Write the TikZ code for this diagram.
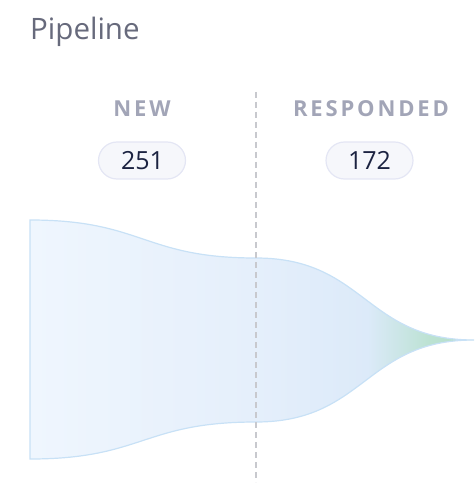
\documentclass[tikz,border=0pt]{standalone}
\usepackage{fontspec}
\setmainfont{Open Sans}
\newfontfamily\labfont[LetterSpace=13]{Open Sans}
\definecolor{titlec}{HTML}{676A7C}
\definecolor{labc}{HTML}{A2A5B7}
\definecolor{numc}{HTML}{1C2341}
\definecolor{pillfill}{HTML}{F6F7FB}
\definecolor{pilldraw}{HTML}{E4E6F4}
\definecolor{flowdraw}{HTML}{C8E1F6}
\definecolor{dashc}{HTML}{C8C9CE}
\definecolor{fa}{HTML}{EFF6FE}
\definecolor{fb}{HTML}{E5EFFB}
\definecolor{fc}{HTML}{DCEAF9}
\definecolor{fd}{HTML}{C9E5E4}
\definecolor{fe}{HTML}{BCE2D2}
\definecolor{ff}{HTML}{B2DDC9}
\pgfdeclarehorizontalshading{flowshade}{100bp}{color(0bp)=(fa); color(25bp)=(fa); color(50bp)=(fb); color(63bp)=(fc); color(67bp)=(fd); color(70bp)=(fe); color(75bp)=(ff); color(100bp)=(ff)}
\tikzset{
  titletext/.style={font=\fontsize{29.5}{31}\selectfont, text=titlec, inner sep=0pt},
  stagelabel/.style={font=\labfont\bfseries\fontsize{22}{24}\selectfont, text=labc, inner sep=0pt},
  pill/.style={draw=pilldraw, fill=pillfill, line width=1.2pt, rounded corners=18.5pt, minimum width=87pt, minimum height=37pt, inner sep=0pt},
  pilltext/.style={font=\fontsize{25}{27}\selectfont, text=numc, inner sep=0pt},
  divider/.style={draw=dashc, line width=1.6pt, dash pattern=on 6pt off 4pt},
  flow/.style={draw=flowdraw, line width=1.2pt, shading=flowshade}
}
\begin{document}
\begin{tikzpicture}[x=1pt,y=-1pt]
\useasboundingbox (0,0) rectangle (474,486);
% flow shape
\path[flow] (30,220) .. controls (143,220) and (143,258) .. (256,258)
  .. controls (365,258) and (365,340) .. (474,340)
  .. controls (365,340) and (365,422) .. (256,422)
  .. controls (143,422) and (143,459) .. (30,459) -- cycle;
% divider
\coordinate (dtop) at (256,92);
\coordinate (dbot) at (256,482);
\draw[divider] (dtop) -- (dbot);
% title
\node[titletext, anchor=base west] (title) at (30,39.5) {Pipeline};
% stage labels
\node[stagelabel, anchor=base] (lnew) at (142,116.7) {NEW};
\node[stagelabel, anchor=base] (lresp) at (371,116.7) {RESPONDED};
% pills
\node[pill] (pnew) at (142,160.5) {};
\node[pill] (presp) at (369.5,160.5) {};
\node[pilltext, anchor=base] (nnew) at (142.5,170) {251};
\node[pilltext, anchor=base] (nresp) at (369.5,170) {172};
\end{tikzpicture}
\end{document}
